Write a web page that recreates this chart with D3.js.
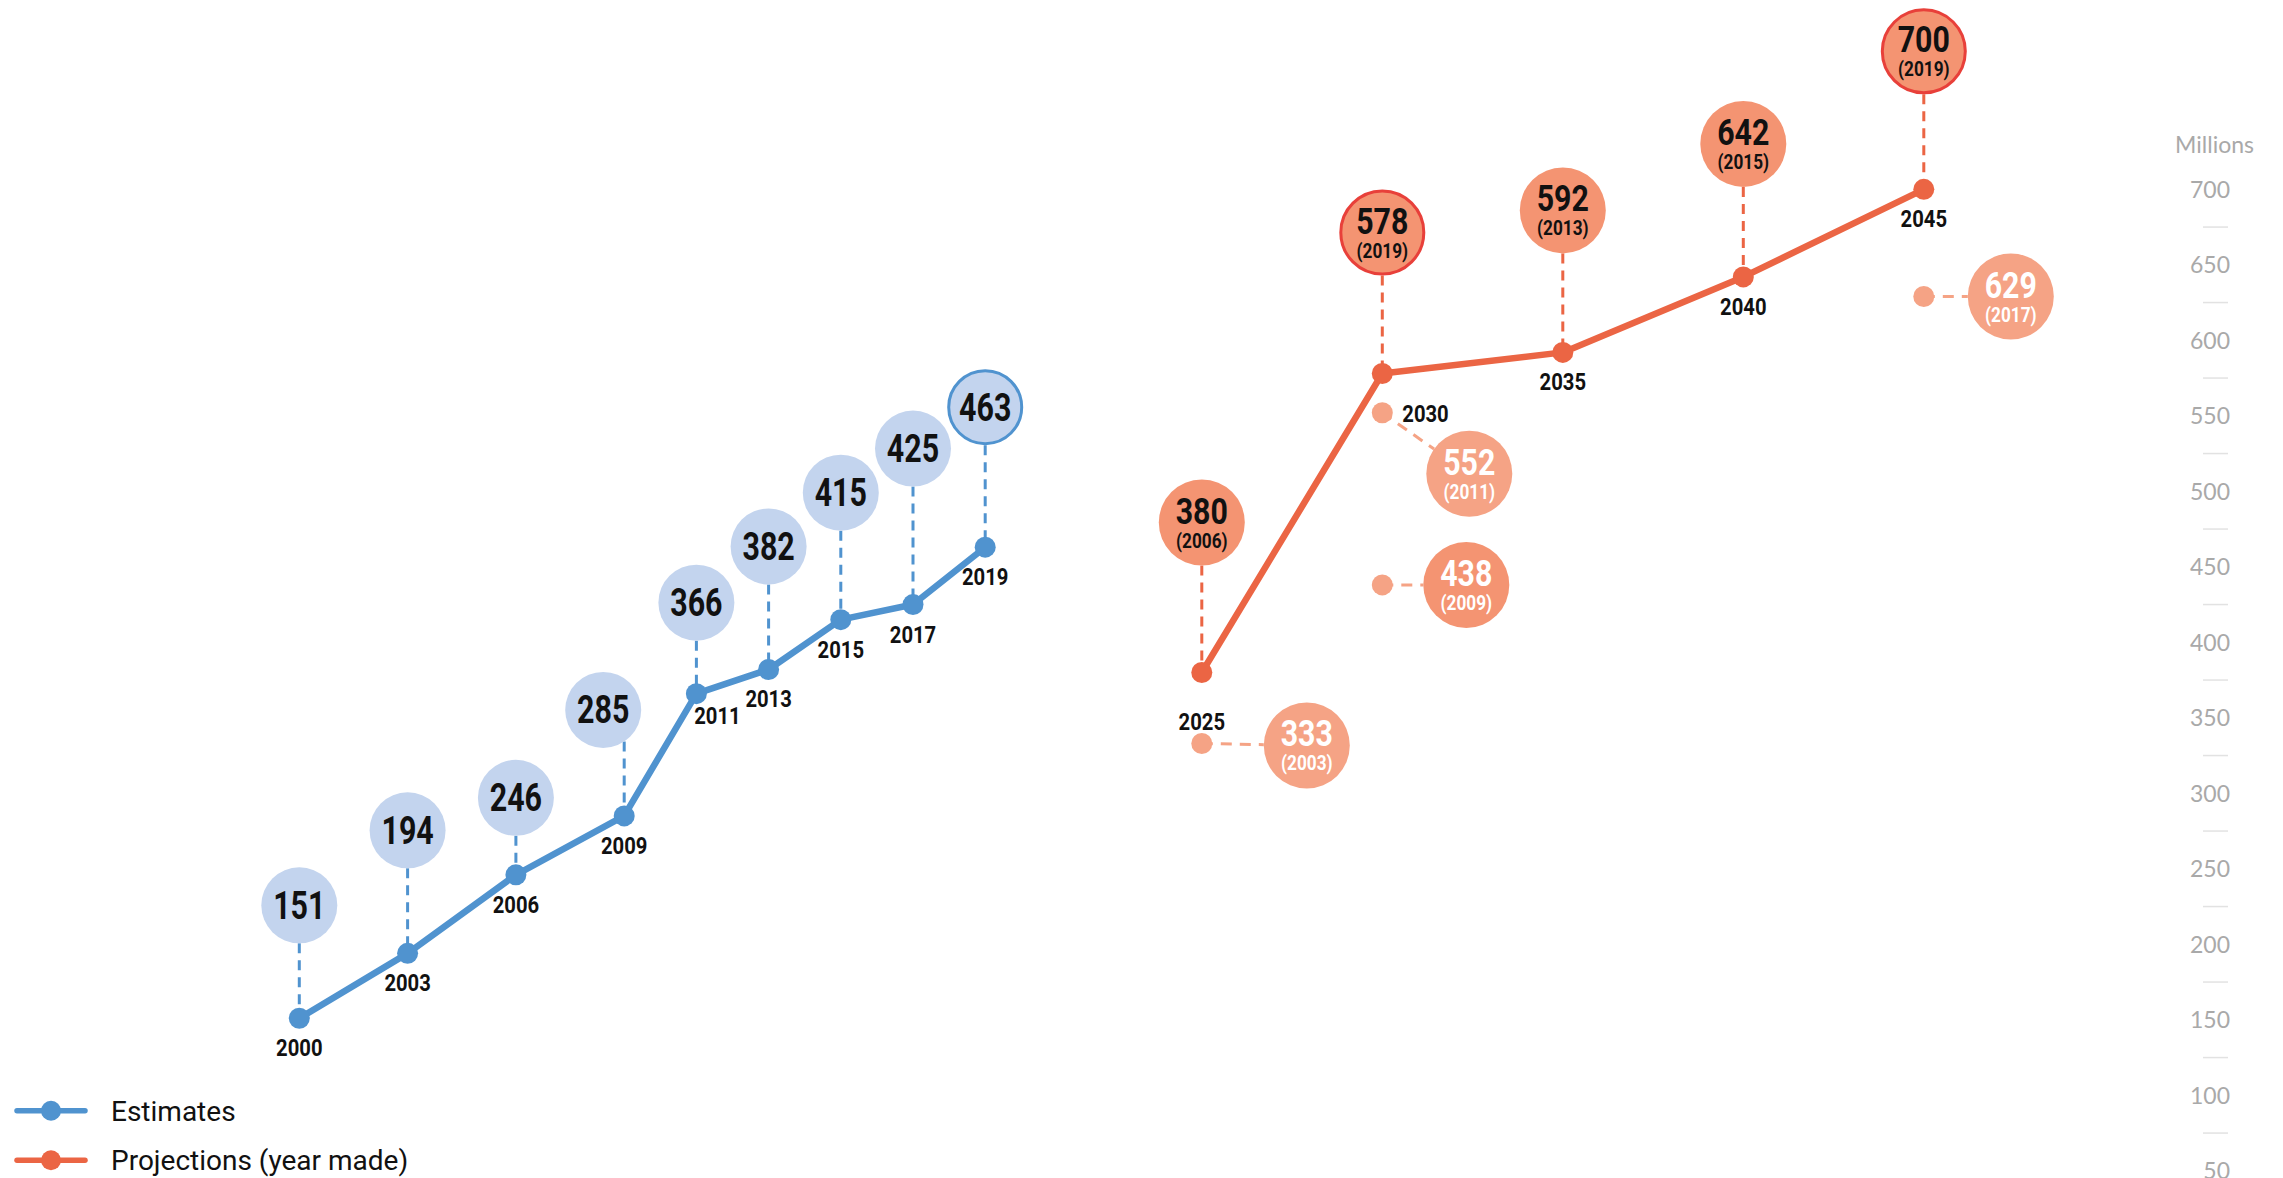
<!DOCTYPE html>
<html>
<head>
<meta charset="utf-8">
<script src="https://cdn.jsdelivr.net/npm/d3@7"></script>
<style>
  body { margin: 0; background: #fff; }
  svg { display: block; }
  .cond { font-family: Roboto, "DejaVu Sans Condensed", sans-serif; font-weight: bold; }
  .axis text { font-family: Lato, "Noto Sans", sans-serif; fill: #a9a9a9; font-size: 23px; }
  .legend text { font-family: Roboto, sans-serif; font-size: 28px; fill: #111; }
</style>
</head>
<body>
<svg id="chart" width="2283" height="1178"></svg>
<script>
// estimates
const estYears = [2000, 2003, 2006, 2009, 2011, 2013, 2015, 2017, 2019];
const estValues = [151, 194, 246, 285, 366, 382, 415, 425, 463];

// projections on the line (target year, value, year made)
const projYears = [2025, 2030, 2035, 2040, 2045];
const projValues = [380, 578, 592, 642, 700];
const projMade = [2006, 2019, 2013, 2015, 2019];

// older projections off the line
const oldYears = [2025, 2030, 2030, 2045];
const oldValues = [333, 552, 438, 629];
const oldMade = [2003, 2011, 2009, 2017];

const yTicks = [50, 100, 150, 200, 250, 300, 350, 400, 450, 500, 550, 600, 650, 700];
const legendLabels = ["Estimates", "Projections (year made)"];

// label layout (pixels), kept apart from the data
const estLift = [113, 123, 77, 106, 91, 123, 127, 156, 140];
const estShift = [0, 0, 0, -21, 0, 0, 0, 0, 0];
const projLift = [150, 141, 142, 133, 138];
const oldOffset = [[105, 2], [87, 61], [84, 0], [87, 0]];
const oldShade = ["light", "light", "mid", "light"];

const blue = "#5093cf", blueLight = "#c3d4ee";
const orange = "#eb6544", salmon = "#f49472", salmonLight = "#f5a385", red = "#e8403a";

const svg = d3.select("#chart");

const x = d3.scaleLinear().domain([2000, 2045]).range([299.3, 1923.8]);
const y = d3.scaleLinear().domain([50, 700]).range([1170.8, 189.3]);

const est = estYears.map((yr, i) => ({ year: yr, value: estValues[i], i: i }));
const proj = projYears.map((yr, i) => ({ year: yr, value: projValues[i], made: projMade[i], i: i }));
const old = oldYears.map((yr, i) => ({ year: yr, value: oldValues[i], made: oldMade[i], i: i }));
const latestMade = d3.max(projMade);

// condensed look: squeeze a bold face horizontally
function condText(g, tx, ty, str, size, fill, anchor, sx) {
    return g.append("text").attr("class", "cond")
        .attr("transform", "translate(" + tx + "," + ty + ") scale(" + (sx || 0.8) + ",1)")
        .attr("text-anchor", anchor || "middle")
        .attr("font-size", size).attr("fill", fill)
        .text(str);
}

// y axis on the right
const axis = svg.append("g").attr("class", "axis");
axis.append("text").attr("x", 2254).attr("y", 153).attr("text-anchor", "end").text("Millions");
axis.selectAll("text.tick").data(yTicks).join("text")
    .attr("class", "tick")
    .attr("x", 2230)
    .attr("y", d => y(d))
    .attr("dy", "0.36em")
    .attr("text-anchor", "end")
    .text(d => d);
axis.selectAll("line").data(yTicks.slice(1)).join("line")
    .attr("x1", 2203).attr("x2", 2228)
    .attr("y1", d => y(d - 25)).attr("y2", d => y(d - 25))
    .attr("stroke", "#e2e2e2").attr("stroke-width", 1.5);

const line = d3.line().x(d => x(d.year)).y(d => y(d.value));
const R_EST = 38, R_PROJ = 43, R_DOT = 10.5;

// ---- old projections (behind) ----
const oldG = svg.append("g");
old.forEach(d => {
    let px = x(d.year), py = y(d.value);
    let bx = px + oldOffset[d.i][0], by = py + oldOffset[d.i][1];
    let ang = Math.atan2(by - py, bx - px);
    oldG.append("line")
        .attr("x1", px).attr("y1", py)
        .attr("x2", bx - Math.cos(ang) * R_PROJ).attr("y2", by - Math.sin(ang) * R_PROJ)
        .attr("stroke", salmonLight).attr("stroke-width", 3).attr("stroke-dasharray", "11,8");
    oldG.append("circle").attr("cx", px).attr("cy", py).attr("r", R_DOT).attr("fill", salmonLight);
    oldG.append("circle").attr("cx", bx).attr("cy", by).attr("r", R_PROJ)
        .attr("fill", oldShade[d.i] === "mid" ? salmon : salmonLight);
    condText(oldG, bx, by + 1, d.value, 37, "#fff", "middle", 0.82);
    condText(oldG, bx, by + 25, "(" + d.made + ")", 21, "#fff", "middle", 0.82);
});

// ---- estimates ----
const estG = svg.append("g");
est.forEach(d => {
    let px = x(d.year), py = y(d.value);
    let bx = px + estShift[d.i], by = py - estLift[d.i];
    let dx = px - bx;
    let bottom = by + Math.sqrt(R_EST * R_EST - dx * dx);
    estG.append("line").attr("x1", px).attr("x2", px)
        .attr("y1", bottom).attr("y2", py)
        .attr("stroke", blue).attr("stroke-width", 3).attr("stroke-dasharray", "10,7");
});
estG.append("path").datum(est).attr("d", line)
    .attr("fill", "none").attr("stroke", blue).attr("stroke-width", 6.5).attr("stroke-linejoin", "round");
estG.selectAll("circle.dot").data(est).join("circle").attr("class", "dot")
    .attr("cx", d => x(d.year)).attr("cy", d => y(d.value)).attr("r", R_DOT).attr("fill", blue);
est.forEach(d => {
    let bx = x(d.year) + estShift[d.i], by = y(d.value) - estLift[d.i];
    let last = d.year === d3.max(estYears);
    estG.append("circle").attr("cx", bx).attr("cy", by)
        .attr("r", last ? R_EST - 1.5 : R_EST)
        .attr("fill", blueLight)
        .attr("stroke", last ? blue : "none").attr("stroke-width", 3);
    condText(estG, bx, by + 13.5, d.value, 38, "#111", "middle", 0.8);
    let lx = 0, ly = 38;
    if (d.year === 2011) { lx = 21; ly = 30; }
    condText(estG, x(d.year) + lx, y(d.value) + ly, d.year, 23, "#111", "middle", 0.88);
});

// ---- projections ----
const projG = svg.append("g");
proj.forEach(d => {
    let px = x(d.year), py = y(d.value), by = py - projLift[d.i];
    projG.append("line").attr("x1", px).attr("x2", px)
        .attr("y1", by + R_PROJ).attr("y2", py)
        .attr("stroke", orange).attr("stroke-width", 3).attr("stroke-dasharray", "10,7");
});
projG.append("path").datum(proj).attr("d", line)
    .attr("fill", "none").attr("stroke", orange).attr("stroke-width", 6.5).attr("stroke-linejoin", "round");
projG.selectAll("circle.dot").data(proj).join("circle").attr("class", "dot")
    .attr("cx", d => x(d.year)).attr("cy", d => y(d.value)).attr("r", R_DOT).attr("fill", orange);
proj.forEach(d => {
    let px = x(d.year), py = y(d.value), by = py - projLift[d.i];
    let recent = d.made === latestMade;
    projG.append("circle").attr("cx", px).attr("cy", by)
        .attr("r", recent ? R_PROJ - 1.5 : R_PROJ)
        .attr("fill", salmon)
        .attr("stroke", recent ? red : "none").attr("stroke-width", 3);
    condText(projG, px, by + 1, d.value, 37, "#111", "middle", 0.82);
    condText(projG, px, by + 25, "(" + d.made + ")", 21, "#111", "middle", 0.82);
    let lx = 0, ly = 38, anchor = "middle";
    if (d.year === 2025) { ly = 57; }
    if (d.year === 2030) { lx = 20; ly = 48; anchor = "start"; }
    condText(projG, px + lx, py + ly, d.year, 23, "#111", anchor, 0.88);
});

// ---- legend ----
const legend = svg.append("g").attr("class", "legend");
const legendColors = [blue, orange];
legendLabels.forEach((lab, i) => {
    let ly = 1110.7 + i * 49.5;
    legend.append("line").attr("x1", 17).attr("x2", 85).attr("y1", ly).attr("y2", ly)
        .attr("stroke", legendColors[i]).attr("stroke-width", 5.5).attr("stroke-linecap", "round");
    legend.append("circle").attr("cx", 51).attr("cy", ly).attr("r", 10).attr("fill", legendColors[i]);
    legend.append("text").attr("x", 111).attr("y", ly + 10).text(lab);
});
</script>
</body>
</html>
